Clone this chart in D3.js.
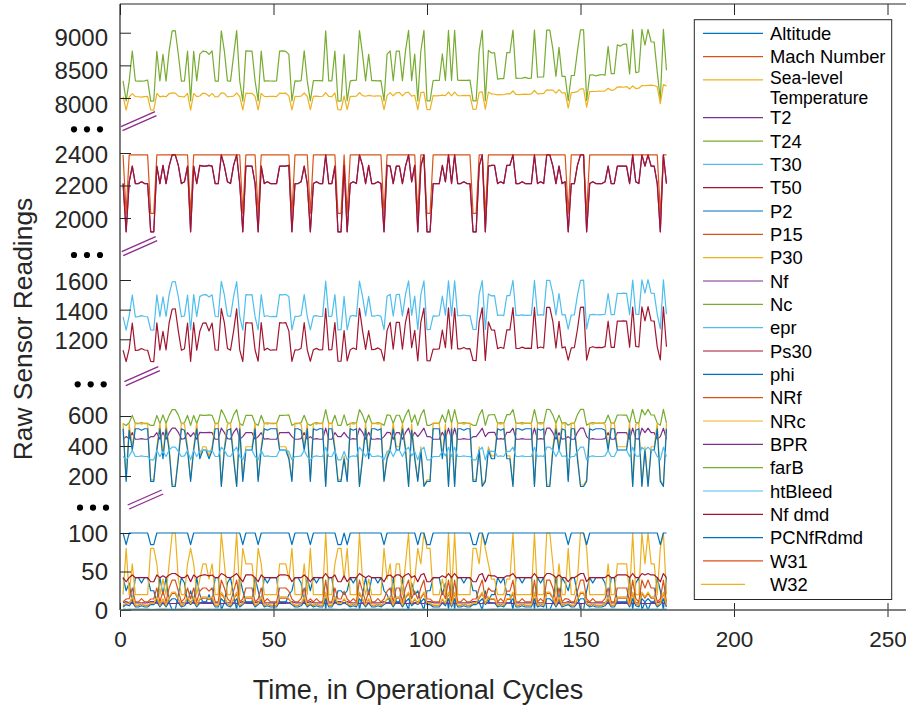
<!DOCTYPE html>
<html>
<head>
<meta charset="utf-8">
<script src="https://cdn.jsdelivr.net/npm/d3@7"></script>
<style>
  body { margin: 0; background: #fff; }
  svg { display: block; }
  text { font-family: "Liberation Sans", Arial, Helvetica, sans-serif; }
</style>
</head>
<body>
<svg id="chart" width="906" height="709"></svg>
<script>
// ---- Engine run: 178 operational cycles, 24 raw channels ----
const cycles = d3.range(1, 179);

const Altitude = [
42,25,35,10,42,42,35,42,42,25, 25,10,42,20,42,10,0,0,20,42, 35,10,25,10,42,20,10,10,20,10,
42,42,0,10,35,42,20,0,42,25, 10,10,10,42,25,10,42,35,42,42, 42,10,10,10,20,25,42,42,35,10,
42,25,42,35,42,42,0,42,42,10, 25,25,20,25,42,35,42,0,20,42, 20,42,42,35,42,25,20,10,42,10,
10,42,10,0,35,20,25,10,0,25, 25,42,42,42,20,35,0,42,0,42, 42,35,42,42,25,25,10,0,25,10,
20,20,42,35,42,20,20,0,42,42, 35,42,42,42,0,42,35,42,0,0, 10,42,10,42,35,25,42,42,20,0,
0,25,42,35,42,42,42,35,10,42, 42,10,10,10,10,42,0,35,42,0, 10,0,10,10,42,25,0,42];

const MachNumber = [
.84,.62,.84,.25,.84,.84,.84,.84,.84,.62, .62,.25,.84,.7,.84,.25,0,0,.7,.84, .84,.25,.62,.25,.84,.7,.25,.25,.7,.25,
.84,.84,0,.25,.84,.84,.7,0,.84,.62, .25,.25,.25,.84,.62,.25,.84,.84,.84,.84, .84,.25,.25,.25,.7,.62,.84,.84,.84,.25,
.84,.62,.84,.84,.84,.84,0,.84,.84,.25, .62,.62,.7,.62,.84,.84,.84,0,.7,.84, .7,.84,.84,.84,.84,.62,.7,.25,.84,.25,
.25,.84,.25,0,.84,.7,.62,.25,0,.62, .62,.84,.84,.84,.7,.84,0,.84,0,.84, .84,.84,.84,.84,.62,.62,.25,0,.62,.25,
.7,.7,.84,.84,.84,.7,.7,0,.84,.84, .84,.84,.84,.84,0,.84,.84,.84,0,0, .25,.84,.25,.84,.84,.62,.84,.84,.7,0,
0,.62,.84,.84,.84,.84,.84,.84,.25,.84, .84,.25,.25,.25,.25,.84,0,.84,.84,0, .25,0,.25,.25,.84,.62,0,.84];

const SeaLevelTemp = [
20,80,20,60,20,20,20,20,20,80, 80,60,20,40,20,60,100,100,40,20, 20,60,80,60,20,40,60,60,40,60,
20,20,100,60,20,20,40,100,20,80, 60,60,60,20,80,60,20,20,20,20, 20,60,60,60,40,80,20,20,20,60,
20,80,20,20,20,20,100,20,20,60, 80,80,40,80,20,20,20,100,40,20, 40,20,20,20,20,80,40,60,20,60,
60,20,60,100,20,40,80,60,100,80, 80,20,20,20,40,20,100,20,100,20, 20,20,20,20,80,80,60,100,80,60,
40,40,20,20,20,40,40,100,20,20, 20,20,20,20,100,20,20,20,100,100, 60,20,60,20,20,80,20,20,40,100,
100,80,20,20,20,20,20,20,60,20, 20,60,60,60,60,20,100,20,20,100, 60,100,60,60,20,80,100,20];

const T2 = [
445.0,462.5,449.4,489.1,445.0,445.0,449.4,445.0,445.0,462.5, 462.5,489.1,445.0,491.2,445.0,489.1,518.7,518.7,491.2,445.0,
449.4,489.1,462.5,489.1,445.0,491.2,489.1,489.1,491.2,489.1, 445.0,445.0,518.7,489.1,449.4,445.0,491.2,518.7,445.0,462.5,
489.1,489.1,489.1,445.0,462.5,489.1,445.0,449.4,445.0,445.0, 445.0,489.1,489.1,489.1,491.2,462.5,445.0,445.0,449.4,489.1,
445.0,462.5,445.0,449.4,445.0,445.0,518.7,445.0,445.0,489.1, 462.5,462.5,491.2,462.5,445.0,449.4,445.0,518.7,491.2,445.0,
491.2,445.0,445.0,449.4,445.0,462.5,491.2,489.1,445.0,489.1, 489.1,445.0,489.1,518.7,449.4,491.2,462.5,489.1,518.7,462.5,
462.5,445.0,445.0,445.0,491.2,449.4,518.7,445.0,518.7,445.0, 445.0,449.4,445.0,445.0,462.5,462.5,489.1,518.7,462.5,489.1,
491.2,491.2,445.0,449.4,445.0,491.2,491.2,518.7,445.0,445.0, 449.4,445.0,445.0,445.0,518.7,445.0,449.4,445.0,518.7,518.7,
489.1,445.0,489.1,445.0,449.4,462.5,445.0,445.0,491.2,518.7, 518.7,462.5,445.0,449.4,445.0,445.0,445.0,449.4,489.1,445.0,
445.0,489.1,489.1,489.1,489.1,445.0,518.7,449.4,445.0,518.7, 489.1,518.7,489.1,489.1,445.0,462.5,518.7,445.0];

const T24 = [
549.3,536.8,555.1,604.2,549.0,549.6,555.4,549.2,549.5,537.1, 536.9,604.4,549.3,607.4,549.8,604.1,642.3,642.6,607.6,549.4,
555.0,604.5,537.0,604.3,549.6,607.5,604.6,604.2,607.3,604.4, 549.7,549.2,642.5,604.6,555.3,549.4,607.7,642.4,549.6,537.2,
604.3,604.7,604.5,549.8,537.1,604.6,549.5,555.2,549.7,549.3, 549.9,604.8,604.4,604.9,607.8,537.3,549.6,549.8,555.6,604.7,
549.7,537.4,549.9,555.5,549.6,550.1,642.8,549.8,549.9,604.9, 537.5,537.3,607.9,537.6,549.9,555.7,550.0,642.9,607.8,550.2,
607.9,550.1,549.8,555.8,550.3,537.6,608.1,605.0,550.2,605.1, 604.9,550.3,605.2,643.0,555.9,608.2,537.8,605.1,643.1,537.7,
537.9,550.4,550.2,550.5,608.3,555.9,643.2,550.4,643.3,550.6, 550.5,556.1,550.7,550.6,538.0,537.9,605.4,643.2,538.1,605.5,
608.5,608.6,550.8,556.2,550.9,608.7,608.8,643.4,551.0,550.9, 556.3,551.1,551.0,551.2,643.5,551.3,556.4,551.2,643.6,643.5,
605.9,551.4,606.0,551.5,556.6,538.4,551.6,551.5,609.1,643.8, 643.7,538.5,551.7,556.8,551.8,551.9,551.7,556.9,606.3,552.0,
552.1,606.4,606.6,606.5,606.7,552.2,644.0,557.0,552.3,644.1, 606.9,644.2,607.0,606.8,552.5,538.8,644.3,552.6];

const T30 = [
1352,1262,1359,1499,1351,1353,1360,1354,1352,1263, 1261,1500,1353,1486,1354,1501,1588,1590,1487,1352,
1358,1499,1263,1501,1353,1488,1500,1502,1486,1500, 1354,1352,1591,1499,1360,1353,1488,1589,1355,1262,
1501,1500,1502,1353,1264,1501,1354,1359,1352,1355, 1353,1502,1500,1503,1489,1263,1355,1354,1361,1501,
1354,1264,1356,1360,1354,1355,1592,1353,1356,1502, 1264,1265,1489,1263,1356,1361,1355,1593,1490,1357,
1490,1356,1357,1362,1355,1265,1491,1503,1357,1502, 1504,1358,1503,1594,1362,1491,1266,1503,1594,1265,
1266,1358,1357,1359,1492,1363,1595,1358,1595,1359, 1360,1364,1359,1360,1267,1266,1505,1596,1267,1506,
1493,1494,1361,1364,1360,1494,1495,1597,1361,1362, 1365,1362,1361,1363,1597,1362,1366,1363,1598,1597,
1507,1363,1508,1364,1367,1268,1364,1365,1496,1598, 1599,1269,1365,1368,1366,1365,1367,1369,1509,1366,
1367,1510,1509,1511,1510,1367,1600,1370,1368,1601, 1511,1602,1512,1510,1369,1270,1601,1370];

const T50 = [
1126,1049,1137,1309,1125,1127,1138,1128,1126,1051, 1050,1311,1127,1253,1129,1310,1404,1406,1255,1126,
1136,1310,1051,1312,1127,1254,1309,1311,1256,1310, 1128,1126,1407,1311,1138,1127,1255,1405,1129,1050,
1312,1310,1311,1128,1052,1313,1127,1139,1126,1129, 1128,1312,1310,1313,1257,1051,1129,1128,1140,1312,
1129,1052,1130,1139,1128,1130,1408,1129,1131,1313, 1053,1052,1258,1054,1130,1141,1131,1409,1258,1132,
1259,1131,1132,1142,1130,1054,1260,1314,1133,1315, 1314,1133,1315,1410,1143,1261,1055,1316,1411,1056,
1055,1134,1133,1135,1262,1144,1412,1135,1411,1136, 1136,1145,1135,1137,1057,1056,1318,1413,1058,1318,
1263,1262,1137,1146,1138,1264,1263,1414,1139,1138, 1147,1139,1140,1139,1415,1140,1148,1141,1416,1415,
1320,1141,1321,1142,1149,1059,1142,1143,1266,1416, 1417,1060,1143,1150,1144,1145,1144,1151,1322,1146,
1146,1323,1322,1324,1323,1147,1418,1152,1148,1419, 1324,1420,1325,1323,1149,1061,1419,1150];

const P2 = [
3.91,7.05,5.48,10.52,3.91,3.91,5.48,3.91,3.91,7.05, 7.05,10.52,3.91,9.35,3.91,10.52,14.62,14.62,9.35,3.91,
5.48,10.52,7.05,10.52,3.91,9.35,10.52,10.52,9.35,10.52, 3.91,3.91,14.62,10.52,5.48,3.91,9.35,14.62,3.91,7.05,
10.52,10.52,10.52,3.91,7.05,10.52,3.91,5.48,3.91,3.91, 3.91,10.52,10.52,10.52,9.35,7.05,3.91,3.91,5.48,10.52,
3.91,7.05,3.91,5.48,3.91,3.91,14.62,3.91,3.91,10.52, 7.05,7.05,9.35,7.05,3.91,5.48,3.91,14.62,9.35,3.91,
9.35,3.91,3.91,5.48,3.91,7.05,9.35,10.52,3.91,10.52, 10.52,3.91,10.52,14.62,5.48,9.35,7.05,10.52,14.62,7.05,
7.05,3.91,3.91,3.91,9.35,5.48,14.62,3.91,14.62,3.91, 3.91,5.48,3.91,3.91,7.05,7.05,10.52,14.62,7.05,10.52,
9.35,9.35,3.91,5.48,3.91,9.35,9.35,14.62,3.91,3.91, 5.48,3.91,3.91,3.91,14.62,3.91,5.48,3.91,14.62,14.62,
10.52,3.91,10.52,3.91,5.48,7.05,3.91,3.91,9.35,14.62, 14.62,7.05,3.91,5.48,3.91,3.91,3.91,5.48,10.52,3.91,
3.91,10.52,10.52,10.52,10.52,3.91,14.62,5.48,3.91,14.62, 10.52,14.62,10.52,10.52,3.91,7.05,14.62,3.91];

const P15 = [
5.71,9.03,8.00,15.49,5.71,5.71,8.00,5.71,5.71,9.03, 9.03,15.49,5.71,13.66,5.71,15.49,21.61,21.61,13.66,5.71,
8.00,15.49,9.03,15.49,5.71,13.66,15.49,15.49,13.66,15.49, 5.71,5.71,21.61,15.49,8.00,5.71,13.66,21.61,5.71,9.03,
15.49,15.49,15.49,5.71,9.03,15.49,5.71,8.00,5.71,5.71, 5.71,15.49,15.49,15.49,13.66,9.03,5.71,5.71,8.00,15.49,
5.71,9.03,5.71,8.00,5.71,5.71,21.61,5.71,5.71,15.49, 9.03,9.03,13.66,9.03,5.71,8.00,5.71,21.61,13.66,5.71,
13.66,5.71,5.71,8.00,5.71,9.03,13.66,15.49,5.71,15.49, 15.49,5.71,15.49,21.61,8.00,13.66,9.03,15.49,21.61,9.03,
9.03,5.71,5.71,5.71,13.66,8.00,21.61,5.71,21.61,5.71, 5.71,8.00,5.71,5.71,9.03,9.03,15.49,21.61,9.03,15.49,
13.66,13.66,5.71,8.00,5.71,13.66,13.66,21.61,5.71,5.71, 8.00,5.71,5.71,5.71,21.61,5.71,8.00,5.71,21.61,21.61,
15.49,5.71,15.49,5.71,8.00,9.03,5.71,5.71,13.66,21.61, 21.61,9.03,5.71,8.00,5.71,5.71,5.71,8.00,15.49,5.71,
5.71,15.49,15.49,15.49,15.49,5.71,21.61,8.00,5.71,21.61, 15.49,21.61,15.49,15.49,5.71,9.03,21.61,5.71];

const P30 = [
552,175,546,395,552,552,546,552,552,175, 175,395,552,334,552,395,140,140,334,552,
546,395,175,395,552,334,395,395,334,395, 552,552,140,395,546,552,334,140,552,175,
395,395,395,552,175,395,552,546,552,552, 552,395,395,395,334,175,552,552,546,395,
552,175,552,546,552,552,140,552,552,395, 175,175,334,175,552,546,552,140,334,552,
334,552,552,546,552,175,334,395,552,395, 395,552,395,140,546,334,175,395,140,175,
175,552,552,552,334,546,140,552,140,552, 552,546,552,552,175,175,395,140,175,395,
334,334,552,546,552,334,334,140,552,552, 546,552,552,552,140,552,546,552,140,140,
395,552,395,552,546,175,552,552,334,140, 140,175,552,546,552,552,552,546,395,552,
552,395,395,395,395,552,140,546,552,140, 395,140,395,395,552,175,140,552];

const Nf = [
2211.9,1915.2,2222.6,2318.9,2211.9,2211.9,2222.6,2211.9,2211.9,1915.2, 1915.2,2318.9,2211.9,2323.9,2211.9,2318.9,2388.0,2388.0,2323.9,2211.9,
2222.6,2318.9,1915.2,2318.9,2211.9,2323.9,2318.9,2318.9,2323.9,2318.9, 2211.9,2211.9,2388.0,2318.9,2222.6,2211.9,2323.9,2388.0,2211.9,1915.2,
2318.9,2318.9,2318.9,2211.9,1915.2,2318.9,2211.9,2222.6,2211.9,2211.9, 2211.9,2318.9,2318.9,2318.9,2323.9,1915.2,2211.9,2211.9,2222.6,2318.9,
2211.9,1915.2,2211.9,2222.6,2211.9,2211.9,2388.0,2211.9,2211.9,2318.9, 1915.2,1915.2,2323.9,1915.2,2211.9,2222.6,2211.9,2388.0,2323.9,2211.9,
2323.9,2211.9,2211.9,2222.6,2211.9,1915.2,2323.9,2318.9,2211.9,2318.9, 2318.9,2211.9,2318.9,2388.0,2222.6,2323.9,1915.2,2318.9,2388.0,1915.2,
1915.2,2211.9,2211.9,2211.9,2323.9,2222.6,2388.0,2211.9,2388.0,2211.9, 2211.9,2222.6,2211.9,2211.9,1915.2,1915.2,2318.9,2388.0,1915.2,2318.9,
2323.9,2323.9,2211.9,2222.6,2211.9,2323.9,2323.9,2388.0,2211.9,2211.9, 2222.6,2211.9,2211.9,2211.9,2388.0,2211.9,2222.6,2211.9,2388.0,2388.0,
2318.9,2211.9,2318.9,2211.9,2222.6,1915.2,2211.9,2211.9,2323.9,2388.0, 2388.0,1915.2,2211.9,2222.6,2211.9,2211.9,2211.9,2222.6,2318.9,2211.9,
2211.9,2318.9,2318.9,2318.9,2318.9,2211.9,2388.0,2222.6,2211.9,2388.0, 2318.9,2388.0,2318.9,2318.9,2211.9,1915.2,2388.0,2211.9];

const Nc = [
8262,7955,8258,8720,8264,8260,8259,8262,8276,7953, 7957,8716,8261,8668,8259,8722,9028,9031,8670,8258,
8262,8718,7956,8715,8262,8672,8718,8712,8668,8720, 8260,8258,9030,8716,8262,8259,8650,9032,8261,7952,
8722,8718,8720,8264,7956,8719,8258,8262,8261,8259, 8263,8718,8721,8715,8668,7954,8262,8260,8265,8722,
8262,7955,8266,8268,8266,8262,9030,8262,8264,8720, 7953,7955,8670,7957,8262,8270,8272,9033,8668,8263,
8670,8265,8266,8264,8266,7955,8672,8722,8265,8720, 8718,8266,8722,9035,8266,8672,7954,8720,9036,7956,
7955,8268,8270,8268,8675,8268,9035,8268,9037,8272, 8270,8272,8271,8275,7956,7955,8726,9036,7957,8730,
8690,8692,8288,8296,8298,8695,8694,9040,8300,8303, 8305,8315,8302,8306,9040,8318,8322,8325,9042,9040,
8748,8330,8775,8330,8333,7960,8345,8346,8718,9044, 9045,7962,8350,8356,8338,8352,8360,8352,8790,8374,
8375,8815,8795,8825,8825,8368,9048,8390,8398,9050, 8810,9050,8862,8856,8400,7975,9050,8425];

const epr = [
1.02,.94,1.02,1.26,1.02,1.02,1.02,1.02,1.02,.94, .94,1.26,1.02,1.08,1.02,1.26,1.3,1.3,1.08,1.02,
1.02,1.26,.94,1.26,1.02,1.08,1.26,1.26,1.08,1.26, 1.02,1.02,1.3,1.26,1.02,1.02,1.08,1.3,1.02,.94,
1.26,1.26,1.26,1.02,.94,1.26,1.02,1.02,1.02,1.02, 1.02,1.26,1.26,1.26,1.08,.94,1.02,1.02,1.02,1.26,
1.02,.94,1.02,1.02,1.02,1.02,1.3,1.02,1.02,1.26, .94,.94,1.08,.94,1.02,1.02,1.02,1.3,1.08,1.02,
1.08,1.02,1.02,1.02,1.02,.94,1.08,1.26,1.02,1.26, 1.26,1.02,1.26,1.3,1.02,1.08,.94,1.26,1.3,.94,
.94,1.02,1.02,1.02,1.08,1.02,1.3,1.02,1.3,1.02, 1.02,1.02,1.02,1.02,.94,.94,1.26,1.3,.94,1.26,
1.08,1.08,1.02,1.02,1.02,1.08,1.08,1.3,1.02,1.02, 1.02,1.02,1.02,1.02,1.3,1.02,1.02,1.02,1.3,1.3,
1.26,1.02,1.26,1.02,1.02,.94,1.02,1.02,1.08,1.3, 1.3,.94,1.02,1.02,1.02,1.02,1.02,1.02,1.26,1.02,
1.02,1.26,1.26,1.26,1.26,1.02,1.3,1.02,1.02,1.3, 1.26,1.3,1.26,1.26,1.02,.94,1.3,1.02];

const Ps30 = [
42.0,36.7,42.1,45.5,42.0,42.0,42.1,42.0,42.0,36.7, 36.7,45.5,42.0,44.4,42.0,45.5,47.4,47.4,44.4,42.0,
42.1,45.5,36.7,45.5,42.0,44.4,45.5,45.5,44.4,45.5, 42.0,42.0,47.4,45.5,42.1,42.0,44.4,47.4,42.0,36.7,
45.5,45.5,45.5,42.0,36.7,45.5,42.0,42.1,42.0,42.0, 42.0,45.5,45.5,45.5,44.4,36.7,42.0,42.0,42.1,45.5,
42.0,36.7,42.0,42.1,42.0,42.0,47.4,42.0,42.0,45.5, 36.7,36.7,44.4,36.7,42.0,42.1,42.0,47.4,44.4,42.0,
44.4,42.0,42.0,42.1,42.0,36.7,44.4,45.5,42.0,45.5, 45.5,42.0,45.5,47.4,42.1,44.4,36.7,45.5,47.4,36.7,
36.7,42.0,42.0,42.0,44.4,42.1,47.4,42.0,47.4,42.0, 42.0,42.1,42.0,42.0,36.7,36.7,45.5,47.4,36.7,45.5,
44.4,44.4,42.0,42.1,42.0,44.4,44.4,47.4,42.0,42.0, 42.1,42.0,42.0,42.0,47.4,42.0,42.1,42.0,47.4,47.4,
45.5,42.0,45.5,42.0,42.1,36.7,42.0,42.0,44.4,47.4, 47.4,36.7,42.0,42.1,42.0,42.0,42.0,42.1,45.5,42.0,
42.0,45.5,45.5,45.5,45.5,42.0,47.4,42.1,42.0,47.4, 45.5,47.4,45.5,45.5,42.0,36.7,47.4,42.0];

const phi = [
515,164,505,372,515,515,505,515,515,164, 164,372,515,315,515,372,130,130,315,515,
505,372,164,372,515,315,372,372,315,372, 515,515,130,372,505,515,315,130,515,164,
372,372,372,515,164,372,515,505,515,515, 515,372,372,372,315,164,515,515,505,372,
515,164,515,505,515,515,130,515,515,372, 164,164,315,164,515,505,515,130,315,515,
315,515,515,505,515,164,315,372,515,372, 372,515,372,130,505,315,164,372,130,164,
164,515,515,515,315,505,130,515,130,515, 515,505,515,515,164,164,372,130,164,372,
315,315,515,505,515,315,315,130,515,515, 505,515,515,515,130,515,505,515,130,130,
372,515,372,515,505,164,515,515,315,130, 130,164,515,505,515,515,515,505,372,515,
515,372,372,372,372,515,130,505,515,130, 372,130,372,372,515,164,130,515];

const NRf = [
2388,2028,2388,2388,2388,2388,2388,2388,2388,2028, 2028,2388,2388,2388,2388,2388,2388,2388,2388,2388,
2388,2388,2028,2388,2388,2388,2388,2388,2388,2388, 2388,2388,2388,2388,2388,2388,2388,2388,2388,2028,
2388,2388,2388,2388,2028,2388,2388,2388,2388,2388, 2388,2388,2388,2388,2388,2028,2388,2388,2388,2388,
2388,2028,2388,2388,2388,2388,2388,2388,2388,2388, 2028,2028,2388,2028,2388,2388,2388,2388,2388,2388,
2388,2388,2388,2388,2388,2028,2388,2388,2388,2388, 2388,2388,2388,2388,2388,2388,2028,2388,2388,2028,
2028,2388,2388,2388,2388,2388,2388,2388,2388,2388, 2388,2388,2388,2388,2028,2028,2388,2388,2028,2388,
2388,2388,2388,2388,2388,2388,2388,2388,2388,2388, 2388,2388,2388,2388,2388,2388,2388,2388,2388,2388,
2388,2388,2388,2388,2388,2028,2388,2388,2388,2388, 2388,2028,2388,2388,2388,2388,2388,2388,2388,2388,
2388,2388,2388,2388,2388,2388,2388,2388,2388,2388, 2388,2388,2388,2388,2388,2028,2388,2388];

const NRc = [
8020,7815,8016,8068,8022,8019,8015,8021,8024,7818, 7814,8070,8017,8030,8019,8066,8078,8075,8028,8020,
8016,8072,7816,8069,8021,8031,8074,8068,8026,8071, 8018,8022,8080,8070,8017,8023,8029,8077,8020,7817,
8075,8070,8073,8025,7819,8072,8026,8022,8027,8024, 8021,8076,8071,8074,8033,7820,8025,8023,8028,8077,
8026,7821,8024,8029,8023,8027,8082,8025,8022,8078, 7820,7818,8034,7822,8026,8024,8029,8084,8036,8027,
8040,8033,8030,8035,8031,7824,8041,8082,8034,8080, 8085,8032,8083,8088,8030,8042,7822,8084,8090,7825,
7823,8036,8033,8038,8044,8035,8092,8034,8090,8037, 8035,8039,8036,8040,7826,7828,8088,8094,7830,8092,
8062,8058,8048,8052,8050,8066,8062,8108,8054,8051, 8056,8060,8057,8062,8115,8063,8066,8070,8125,8122,
8120,8074,8128,8078,8080,7846,8083,8086,8098,8140, 8142,7860,8098,8102,8100,8106,8104,8110,8150,8118,
8125,8168,8172,8165,8175,8138,8185,8145,8150,8192, 8188,8195,8196,8192,8172,7912,8205,8182];

const BPR = [
9.35,10.89,9.34,8.64,9.35,9.35,9.34,9.35,9.35,10.89, 10.89,8.64,9.35,9.02,9.35,8.64,8.41,8.41,9.02,9.35,
9.34,8.64,10.89,8.64,9.35,9.02,8.64,8.64,9.02,8.64, 9.35,9.35,8.41,8.64,9.34,9.35,9.02,8.41,9.35,10.89,
8.64,8.64,8.64,9.35,10.89,8.64,9.35,9.34,9.35,9.35, 9.35,8.64,8.64,8.64,9.02,10.89,9.35,9.35,9.34,8.64,
9.35,10.89,9.35,9.34,9.35,9.35,8.41,9.35,9.35,8.64, 10.89,10.89,9.02,10.89,9.35,9.34,9.35,8.41,9.02,9.35,
9.02,9.35,9.35,9.34,9.35,10.89,9.02,8.64,9.35,8.64, 8.64,9.35,8.64,8.41,9.34,9.02,10.89,8.64,8.41,10.89,
10.89,9.35,9.35,9.35,9.02,9.34,8.41,9.35,8.41,9.35, 9.35,9.34,9.35,9.35,10.89,10.89,8.64,8.41,10.89,8.64,
9.02,9.02,9.35,9.34,9.35,9.02,9.02,8.41,9.35,9.35, 9.34,9.35,9.35,9.35,8.41,9.35,9.34,9.35,8.41,8.41,
8.64,9.35,8.64,9.35,9.34,10.89,9.35,9.35,9.02,8.41, 8.41,10.89,9.35,9.34,9.35,9.35,9.35,9.34,8.64,9.35,
9.35,8.64,8.64,8.64,8.64,9.35,8.41,9.34,9.35,8.41, 8.64,8.41,8.64,8.64,9.35,10.89,8.41,9.35];

const farB = [
.02,.02,.02,.03,.02,.02,.02,.02,.02,.02, .02,.03,.02,.03,.02,.03,.03,.03,.03,.02,
.02,.03,.02,.03,.02,.03,.03,.03,.03,.03, .02,.02,.03,.03,.02,.02,.03,.03,.02,.02,
.03,.03,.03,.02,.02,.03,.02,.02,.02,.02, .02,.03,.03,.03,.03,.02,.02,.02,.02,.03,
.02,.02,.02,.02,.02,.02,.03,.02,.02,.03, .02,.02,.03,.02,.02,.02,.02,.03,.03,.02,
.03,.02,.02,.02,.02,.02,.03,.03,.02,.03, .03,.02,.03,.03,.02,.03,.02,.03,.03,.02,
.02,.02,.02,.02,.03,.02,.03,.02,.03,.02, .02,.02,.02,.02,.02,.02,.03,.03,.02,.03,
.03,.03,.02,.02,.02,.03,.03,.03,.02,.02, .02,.02,.02,.02,.03,.02,.02,.02,.03,.03,
.03,.02,.03,.02,.02,.02,.02,.02,.03,.03, .03,.02,.02,.02,.02,.02,.02,.02,.03,.02,
.02,.03,.03,.03,.03,.02,.03,.02,.02,.03, .03,.03,.03,.03,.02,.02,.03,.02];

const htBleed = [
330,308,334,371,330,330,334,330,330,308, 308,371,330,364,330,371,392,392,364,330,
334,371,308,371,330,364,371,371,364,371, 330,330,392,371,334,330,364,392,330,308,
371,371,371,330,308,371,330,334,330,330, 330,371,371,371,364,308,330,330,334,371,
330,308,330,334,330,330,392,330,330,371, 308,308,364,308,330,334,330,392,364,330,
364,330,330,334,330,308,364,371,330,371, 371,330,371,392,334,364,308,371,392,308,
308,330,330,330,364,334,392,330,392,330, 330,334,330,330,308,308,371,392,308,371,
364,364,330,334,330,364,364,392,330,330, 334,330,330,330,392,330,334,330,392,392,
371,330,371,330,334,308,330,330,364,392, 392,308,330,334,330,330,330,334,371,330,
330,371,371,371,371,330,392,334,330,392, 371,392,371,371,330,308,392,330];

const NfDmd = [
2212,1915,2223,2319,2212,2212,2223,2212,2212,1915, 1915,2319,2212,2324,2212,2319,2388,2388,2324,2212,
2223,2319,1915,2319,2212,2324,2319,2319,2324,2319, 2212,2212,2388,2319,2223,2212,2324,2388,2212,1915,
2319,2319,2319,2212,1915,2319,2212,2223,2212,2212, 2212,2319,2319,2319,2324,1915,2212,2212,2223,2319,
2212,1915,2212,2223,2212,2212,2388,2212,2212,2319, 1915,1915,2324,1915,2212,2223,2212,2388,2324,2212,
2324,2212,2212,2223,2212,1915,2324,2319,2212,2319, 2319,2212,2319,2388,2223,2324,1915,2319,2388,1915,
1915,2212,2212,2212,2324,2223,2388,2212,2388,2212, 2212,2223,2212,2212,1915,1915,2319,2388,1915,2319,
2324,2324,2212,2223,2212,2324,2324,2388,2212,2212, 2223,2212,2212,2212,2388,2212,2223,2212,2388,2388,
2319,2212,2319,2212,2223,1915,2212,2212,2324,2388, 2388,1915,2212,2223,2212,2212,2212,2223,2319,2212,
2212,2319,2319,2319,2319,2212,2388,2223,2212,2388, 2319,2388,2319,2319,2212,1915,2388,2212];

const PCNfRdmd = [
100,84.93,100,100,100,100,100,100,100,84.93, 84.93,100,100,100,100,100,100,100,100,100,
100,100,84.93,100,100,100,100,100,100,100, 100,100,100,100,100,100,100,100,100,84.93,
100,100,100,100,84.93,100,100,100,100,100, 100,100,100,100,100,84.93,100,100,100,100,
100,84.93,100,100,100,100,100,100,100,100, 84.93,84.93,100,84.93,100,100,100,100,100,100,
100,100,100,100,100,84.93,100,100,100,100, 100,100,100,100,100,100,84.93,100,100,84.93,
84.93,100,100,100,100,100,100,100,100,100, 100,100,100,100,84.93,84.93,100,100,84.93,100,
100,100,100,100,100,100,100,100,100,100, 100,100,100,100,100,100,100,100,100,100,
100,100,100,100,100,84.93,100,100,100,100, 100,84.93,100,100,100,100,100,100,100,100,
100,100,100,100,100,100,100,100,100,100, 100,100,100,100,100,84.93,100,100];

const W31 = [
10.5,14.3,14.7,28.6,10.5,10.5,14.7,10.5,10.5,14.3, 14.3,28.6,10.5,24.5,10.5,28.6,38.9,38.9,24.5,10.5,
14.7,28.6,14.3,28.6,10.5,24.5,28.6,28.6,24.5,28.6, 10.5,10.5,38.9,28.6,14.7,10.5,24.5,38.9,10.5,14.3,
28.6,28.6,28.6,10.5,14.3,28.6,10.5,14.7,10.5,10.5, 10.5,28.6,28.6,28.6,24.5,14.3,10.5,10.5,14.7,28.6,
10.5,14.3,10.5,14.7,10.5,10.5,38.9,10.5,10.5,28.6, 14.3,14.3,24.5,14.3,10.5,14.7,10.5,38.9,24.5,10.5,
24.5,10.5,10.5,14.7,10.5,14.3,24.5,28.6,10.5,28.6, 28.6,10.5,28.6,38.9,14.7,24.5,14.3,28.6,38.9,14.3,
14.3,10.5,10.5,10.5,24.5,14.7,38.9,10.5,38.9,10.5, 10.5,14.7,10.5,10.5,14.3,14.3,28.6,38.9,14.3,28.6,
24.5,24.5,10.5,14.7,10.5,24.5,24.5,38.9,10.5,10.5, 14.7,10.5,10.5,10.5,38.9,10.5,14.7,10.5,38.9,38.9,
28.6,10.5,28.6,10.5,14.7,14.3,10.5,10.5,24.5,38.9, 38.9,14.3,10.5,14.7,10.5,10.5,10.5,14.7,28.6,10.5,
10.5,28.6,28.6,28.6,28.6,10.5,38.9,14.7,10.5,38.9, 28.6,38.9,28.6,28.6,10.5,14.3,38.9,10.5];

const W32 = [
6.4,8.6,8.8,17.2,6.4,6.4,8.8,6.4,6.4,8.6, 8.6,17.2,6.4,14.7,6.4,17.2,23.3,23.3,14.7,6.4,
8.8,17.2,8.6,17.2,6.4,14.7,17.2,17.2,14.7,17.2, 6.4,6.4,23.3,17.2,8.8,6.4,14.7,23.3,6.4,8.6,
17.2,17.2,17.2,6.4,8.6,17.2,6.4,8.8,6.4,6.4, 6.4,17.2,17.2,17.2,14.7,8.6,6.4,6.4,8.8,17.2,
6.4,8.6,6.4,8.8,6.4,6.4,23.3,6.4,6.4,17.2, 8.6,8.6,14.7,8.6,6.4,8.8,6.4,23.3,14.7,6.4,
14.7,6.4,6.4,8.8,6.4,8.6,14.7,17.2,6.4,17.2, 17.2,6.4,17.2,23.3,8.8,14.7,8.6,17.2,23.3,8.6,
8.6,6.4,6.4,6.4,14.7,8.8,23.3,6.4,23.3,6.4, 6.4,8.8,6.4,6.4,8.6,8.6,17.2,23.3,8.6,17.2,
14.7,14.7,6.4,8.8,6.4,14.7,14.7,23.3,6.4,6.4, 8.8,6.4,6.4,6.4,23.3,6.4,8.8,6.4,23.3,23.3,
17.2,6.4,17.2,6.4,8.8,8.6,6.4,6.4,14.7,23.3, 23.3,8.6,6.4,8.8,6.4,6.4,6.4,8.8,17.2,6.4,
6.4,17.2,17.2,17.2,17.2,6.4,23.3,8.8,6.4,23.3, 17.2,23.3,17.2,17.2,6.4,8.6,23.3,6.4];

const seriesNames = ["Altitude","Mach Number","Sea-level Temperature","T2","T24","T30","T50","P2","P15","P30",
  "Nf","Nc","epr","Ps30","phi","NRf","NRc","BPR","farB","htBleed","Nf dmd","PCNfRdmd","W31","W32"];
const seriesValues = [Altitude, MachNumber, SeaLevelTemp, T2, T24, T30, T50, P2, P15, P30,
  Nf, Nc, epr, Ps30, phi, NRf, NRc, BPR, farB, htBleed, NfDmd, PCNfRdmd, W31, W32];

// default line colour order, reused cyclically
const palette = ["#0072BD", "#D95319", "#EDB120", "#7E2F8E", "#77AC30", "#4DBEEE", "#A2142F"];

const xTicks = [0, 50, 100, 150, 200, 250];
const yTicks = [0, 50, 100, 200, 400, 600, 1200, 1400, 1600, 2000, 2200, 2400, 8000, 8500, 9000];
// small vertical nudges of the tick labels relative to their ticks
const yTickLabelShift = [0.5, 0.3, 0.8, 0.7, 0.7, -0.2, 1.7, 1.7, 2, 1.5, 0, 2, 7, 5.7, 4.8];

// broken y axis: five stacked value ranges sharing one piecewise-linear scale
const yBreakDomain = [0, 110, 120, 660, 1000, 1650, 1850, 2420, 7700, 9100];
const yBreakRange  = [610, 525.3, 488, 407, 368.95, 272.6, 242.4, 149.75, 117.6, 26.2];

// ---- drawing ----
const svg = d3.select("#chart");
const axisColor = "#262626";
const fontStack = '"Liberation Sans", Arial, Helvetica, sans-serif';
const plotLeft = 120, plotTop = 4, plotBottom = 610, plotRight = 918;

const x = d3.scaleLinear().domain([0, 250]).range([120, 887.5]);
const y = d3.scaleLinear().domain(yBreakDomain).range(yBreakRange);

svg.append("defs").append("clipPath").attr("id", "plotClip")
  .append("rect").attr("x", plotLeft).attr("y", plotTop)
  .attr("width", plotRight - plotLeft).attr("height", plotBottom - plotTop);

const line = d3.line()
  .x((d, i) => x(cycles[i]))
  .y(d => y(d));

svg.append("g").attr("clip-path", "url(#plotClip)")
  .selectAll("path").data(seriesValues).join("path")
  .attr("d", line)
  .attr("fill", "none")
  .attr("stroke", (d, i) => palette[i % palette.length])
  .attr("stroke-width", 1.2)
  .attr("stroke-linejoin", "round");

// left axis with inward ticks
const yAxis = d3.axisLeft(y).tickValues(yTicks).tickSizeInner(-11).tickSizeOuter(0)
  .tickPadding(12).tickFormat(d3.format("d"));
const gy = svg.append("g").attr("transform", `translate(${plotLeft},0)`).call(yAxis);
gy.select(".domain").remove();
gy.selectAll(".tick line").attr("stroke", axisColor).attr("stroke-width", 1);
gy.selectAll(".tick text")
  .attr("font-size", 24).attr("fill", axisColor).attr("font-family", fontStack)
  .attr("dy", (d) => (0.32 * 24 + yTickLabelShift[yTicks.indexOf(d)]) + "px");

// bottom axis: ticks straddle the axis line
const xAxis = d3.axisBottom(x).tickValues(xTicks).tickSizeInner(7).tickSizeOuter(0).tickPadding(14);
const gx = svg.append("g").attr("transform", `translate(0,${plotBottom})`).call(xAxis);
gx.select(".domain").remove();
gx.selectAll(".tick line").attr("stroke", axisColor);
gx.selectAll(".tick").append("line").attr("y1", 0).attr("y2", -7).attr("stroke", axisColor);
gx.selectAll(".tick text")
  .attr("font-size", 22.5).attr("fill", axisColor).attr("font-family", fontStack);

// top edge ticks
const xAxisTop = d3.axisTop(x).tickValues(xTicks).tickSizeInner(-11).tickSizeOuter(0).tickFormat("");
const gt = svg.append("g").attr("transform", `translate(0,${plotTop})`).call(xAxisTop);
gt.select(".domain").remove();
gt.selectAll(".tick line").attr("stroke", axisColor);

// axes box edges
svg.append("line").attr("x1", plotLeft).attr("x2", plotRight).attr("y1", plotTop).attr("y2", plotTop)
  .attr("stroke", axisColor).attr("stroke-width", 1.2);
svg.append("line").attr("x1", plotLeft).attr("x2", plotLeft).attr("y1", plotTop).attr("y2", plotBottom)
  .attr("stroke", axisColor).attr("stroke-width", 1.2);
svg.append("line").attr("x1", plotLeft).attr("x2", plotRight).attr("y1", plotBottom).attr("y2", plotBottom)
  .attr("stroke", "#555").attr("stroke-width", 1.6);

// break markers: double slash near the axis and a row of dots in the label column
const breakMarks = [
  { sx: 121.0, sy: 126.7, dotX: 74, dotY: 129.3 },
  { sx: 121.7, sy: 251.7, dotX: 74, dotY: 255.0 },
  { sx: 124.3, sy: 381.7, dotX: 77.7, dotY: 384.3 },
  { sx: 127.7, sy: 505.0, dotX: 80, dotY: 507.7 }
];
const gb = svg.append("g");
breakMarks.forEach(b => {
  [0, 1].forEach(k => {
    gb.append("line")
      .attr("x1", b.sx + 1.5 * k).attr("y1", b.sy + 4 * k)
      .attr("x2", b.sx + 34 + 1.5 * k).attr("y2", b.sy - 15 + 4 * k)
      .attr("stroke", "#8E2C8B").attr("stroke-width", 1.3);
  });
  [0, 1, 2].forEach(k => {
    gb.append("circle").attr("cx", b.dotX + 13 * k).attr("cy", b.dotY).attr("r", 3.1).attr("fill", "#000");
  });
});

// axis titles
svg.append("text")
  .attr("transform", "translate(31.7,329) rotate(-90)")
  .attr("text-anchor", "middle").attr("font-size", 26.4).attr("fill", axisColor)
  .text("Raw Sensor Readings");
svg.append("text")
  .attr("x", 418).attr("y", 699)
  .attr("text-anchor", "middle").attr("font-size", 27).attr("fill", axisColor)
  .text("Time, in Operational Cycles");

// legend
const legend = svg.append("g");
legend.append("rect").attr("x", 694.3).attr("y", 19.7).attr("width", 197.4).attr("height", 579.8)
  .attr("fill", "#fff").attr("stroke", axisColor).attr("stroke-width", 1);
const rowY = i => (i < 3 ? 33.3 + 23.33 * i : 117.7 + 23.33 * (i - 3));
seriesNames.forEach((name, i) => {
  const yy = rowY(i);
  const last = i === seriesNames.length - 1;
  legend.append("line")
    .attr("x1", last ? 701 : 703).attr("x2", last ? 745 : 763)
    .attr("y1", yy).attr("y2", yy)
    .attr("stroke", palette[i % palette.length]).attr("stroke-width", 1.2);
  if (name === "Sea-level Temperature") {
    // two-line entry, set a touch smaller so the lines stay clear of each other
    legend.append("text").attr("x", 770).attr("y", yy + 4.3)
      .attr("font-size", 17.5).attr("fill", "#000").text("Sea-level");
    legend.append("text").attr("x", 770).attr("y", yy + 23.9)
      .attr("font-size", 17.5).attr("fill", "#000").text("Temperature");
  } else {
    legend.append("text").attr("x", 770).attr("y", yy + 6.6)
      .attr("font-size", 18.4).attr("fill", "#000").text(name);
  }
});
</script>
</body>
</html>
